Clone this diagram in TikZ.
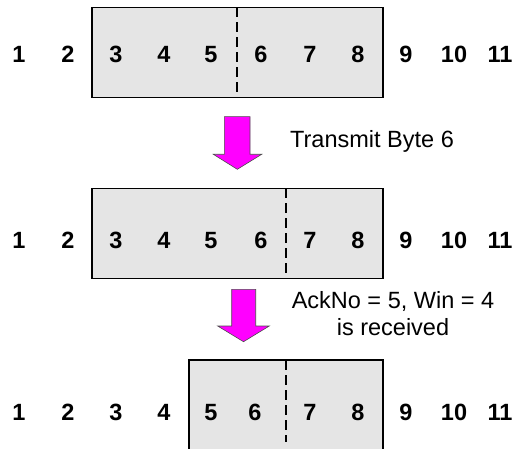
\documentclass[tikz,border=0pt]{standalone}
\usepackage{fontspec}
\setmainfont{Liberation Sans}
\definecolor{boxfill}{RGB}{229,229,229}
\definecolor{arrowfill}{RGB}{255,0,255}
\begin{document}
\begin{tikzpicture}[x=1pt,y=-1pt,
  num/.style={font=\bfseries\fontsize{23.5}{23.5}\selectfont, inner sep=0pt, anchor=base},
  lbl/.style={font=\fontsize{23.5}{27}\selectfont, inner sep=0pt, align=center},
  winbox/.style={draw=black, line width=1.3pt, fill=boxfill},
  divider/.style={draw=black, line width=1.3pt, dash pattern=on 10pt off 5pt},
  bigarrow/.style={draw=black!70, line width=0.6pt, fill=arrowfill}]
\useasboundingbox (0,0) rectangle (519,449);
% window boxes
\path[winbox] (92,7.3) rectangle (383,97.3);
\path[winbox] (92,188.3) rectangle (383,278.3);
\fill[boxfill] (189,360) rectangle (383,452);
\draw[black, line width=1.3pt] (189,452) -- (189,360) -- (383,360) -- (383,452);
% dividers
\coordinate (d1t) at (237,7.3);   \coordinate (d1b) at (237,97.3);
\coordinate (d2t) at (286,188.3); \coordinate (d2b) at (286,278.3);
\coordinate (d3t) at (286,360);   \coordinate (d3b) at (286,442);
\draw[divider] (d1t) -- (d1b);
\draw[divider] (d2t) -- (d2b);
\draw[divider] (d3t) -- (d3b);
% row 1
\foreach \n/\x in {1/19,2/68,3/116,4/164,5/211,6/261,7/310,8/358,9/406,10/454,11/500}
  \node[num] (a\n) at (\x,62.4) {\n};
% row 2
\foreach \n/\x in {1/19,2/68,3/116,4/164,5/211,6/261,7/310,8/358,9/406,10/454,11/500}
  \node[num] (b\n) at (\x,248.4) {\n};
% row 3
\foreach \n/\x in {1/19,2/68,3/116,4/164,5/211,6/255,7/310,8/358,9/406,10/454,11/500}
  \node[num] (c\n) at (\x,420.4) {\n};
% arrows
\draw[bigarrow] (224.3,116.7) -- (250,116.7) -- (250,154.3) -- (261.7,154.3) -- (237.3,169.3)
  -- (213.3,154.3) -- (224.3,154.3) -- cycle;
\draw[bigarrow] (231.7,289.3) -- (255.7,289.3) -- (255.7,326) -- (269.3,326) -- (243.5,341.7)
  -- (217.7,326) -- (231.7,326) -- cycle;
% labels
\node[lbl] (t1) at (372,141) {Transmit Byte 6};
\node[lbl] (t2) at (393,314) {AckNo = 5, Win = 4\\is received};
\end{tikzpicture}
\end{document}
